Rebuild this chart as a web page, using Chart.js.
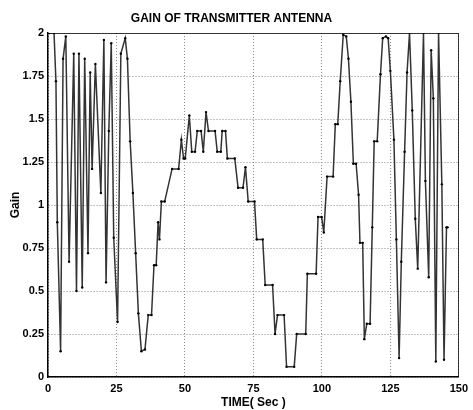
<!DOCTYPE html>
<html>
<head>
<meta charset="utf-8">
<script src="https://cdn.jsdelivr.net/npm/chart.js@4/dist/chart.umd.min.js"></script>
<style>
 body{margin:0;background:#fff;}
 #wrap{width:473px;height:410px;}
</style>
</head>
<body>
<div id="wrap"><canvas id="chartgain" width="473" height="410"></canvas></div>
<script>
// values
var TimeSec = [0.5,2.2,2.9,3.4,4.6,5.5,6.5,7.7,9.4,10.4,11.3,12.5,13.4,14.6,15.4,16.1,17.3,19.3,20.4,21.2,
    22.2,23.1,24.0,25.4,26.6,28.2,29.0,30.0,31.0,32.0,33.0,34.1,35.4,36.6,37.8,38.7,39.5,40.2,40.7,41.4,
    42.6,45.3,47.7,48.7,49.5,50.1,51.6,52.5,53.7,54.5,55.9,56.7,57.7,58.6,61.0,61.8,63.1,63.6,64.8,65.5,
    68.2,69.4,71.2,72.1,73.1,75.4,76.2,78.4,79.3,82.0,82.9,83.8,86.2,87.1,89.9,90.8,94.1,94.7,97.9,98.6,
    99.9,100.7,101.9,104.1,104.9,105.8,106.7,107.8,108.9,109.7,110.6,111.5,112.5,113.4,113.9,114.9,115.5,116.4,117.6,118.4,
    119.1,120.2,121.4,122.2,123.4,124.2,125.0,126.3,127.2,128.2,129.0,130.2,131.1,132.0,133.0,134.1,135.0,137.1,137.8,
    139.0,139.9,140.7,141.6,142.6,143.8,144.6,145.5,145.9];
var Gain = [2.0,2.0,1.72,0.90,0.15,1.85,1.98,0.67,1.88,0.50,1.88,0.52,1.85,0.72,1.77,1.21,1.82,1.07,1.96,0.55,
    1.43,1.94,0.81,0.32,1.88,1.97,1.85,1.37,1.07,0.72,0.37,0.15,0.16,0.36,0.36,0.65,0.65,0.90,0.80,1.02,
    1.02,1.21,1.21,1.38,1.27,1.27,1.52,1.31,1.31,1.43,1.43,1.31,1.54,1.43,1.43,1.31,1.31,1.43,1.43,1.27,
    1.27,1.10,1.10,1.22,1.02,1.02,0.80,0.80,0.535,0.535,0.25,0.36,0.36,0.06,0.06,0.25,0.25,0.60,0.60,0.93,
    0.93,0.84,1.165,1.165,1.47,1.47,1.72,1.99,1.98,1.85,1.60,1.24,1.24,1.06,0.78,0.78,0.22,0.31,0.31,0.87,
    1.37,1.37,1.76,1.97,1.98,1.97,1.78,1.38,0.80,0.11,0.67,1.31,1.77,2.0,1.55,0.92,0.63,2.0,1.14,
    0.58,1.90,1.62,0.09,2.0,1.12,0.10,0.87,0.87];
var XTicks = [0,25,50,75,100,125,150];
var YTicks = [0,0.25,0.5,0.75,1,1.25,1.5,1.75,2];

var pts = [];
for(var i=0;i<TimeSec.length;i++){
    pts.push({x:TimeSec[i], y:Gain[i]});
}

var fontFam = "'Liberation Sans', Arial, sans-serif";
var ctx_chart = document.getElementById("chartgain").getContext("2d");
var chart = new Chart(ctx_chart, {
    type: "line",
    data: {
        datasets: [{
            label: "Gain",
            data: pts,
            borderColor: "#333333",
            borderWidth: 1.5,
            pointRadius: 1.2,
            pointBackgroundColor: "#000",
            pointBorderColor: "#000",
            pointBorderWidth: 0,
            tension: 0,
            fill: false
        }, {
            // top / right frame of the box
            label: "frame",
            data: [{x:0,y:2},{x:150,y:2},{x:150,y:0}],
            borderColor: "#000",
            borderWidth: 1.5,
            pointRadius: 0,
            tension: 0,
            fill: false
        }]
    },
    options: {
        responsive: false,
        animation: false,
        layout: { padding: { left: 0, right: 10, top: 0, bottom: 0 } },
        plugins: {
            legend: { display: false },
            tooltip: { enabled: false },
            title: {
                display: true,
                text: "GAIN OF TRANSMITTER ANTENNA",
                color: "#000",
                font: { family: fontFam, size: 12, weight: "bold" },
                padding: { top: 11, bottom: 7.6 }
            }
        },
        scales: {
            x: {
                type: "linear",
                min: 0,
                max: 150,
                afterBuildTicks: function(s){ s.ticks = XTicks.map(function(v){ return {value:v}; }); },
                afterFit: function(s){ s.height = 33; },
                grid: { color: "#8a8a8a", lineWidth: 1, drawTicks: false },
                border: { display: true, color: "#000", width: 1.5, dash: [1,2] },
                ticks: { color: "#000", padding: 5, maxRotation: 0,
                    callback: function(v){ return String(v); },
                    font: { family: fontFam, size: 11, weight: "bold" } },
                title: { display: true, text: "TIME( Sec )", color: "#000", padding: 0,
                    font: { family: fontFam, size: 12, weight: "bold" } }
            },
            y: {
                min: 0,
                max: 2,
                afterBuildTicks: function(s){ s.ticks = YTicks.map(function(v){ return {value:v}; }); },
                afterFit: function(s){ s.width = 48; },
                grid: { color: "#8a8a8a", lineWidth: 1, drawTicks: false },
                border: { display: true, color: "#000", width: 1.5, dash: [1,2] },
                ticks: { color: "#000", padding: 4,
                    callback: function(v){ return String(v); },
                    font: { family: fontFam, size: 11, weight: "bold" } },
                title: { display: true, text: "Gain", color: "#000", padding: { top: 8, bottom: 0 },
                    font: { family: fontFam, size: 12, weight: "bold" } }
            }
        }
    }
});
</script>
</body>
</html>
